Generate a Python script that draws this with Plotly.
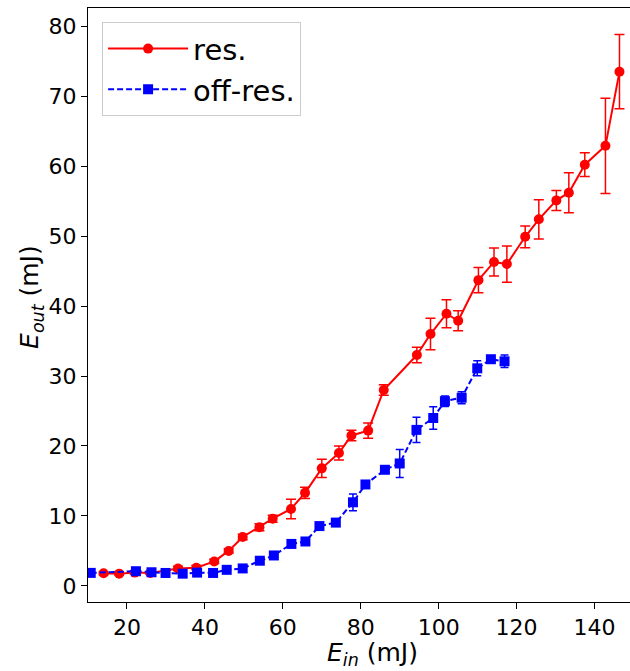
import plotly.graph_objects as go

# Resonant pumping: input energy, output energy and uncertainty (mJ)
res_ein = [14, 18, 22, 26, 33.1, 37.8, 42.4, 46.1, 49.7, 54, 57.4, 62.1, 65.7, 70,
           74.4, 77.6, 81.9, 85.9, 94.4, 97.9, 102, 105, 110.2, 114.2, 117.5, 122.2,
           125.7, 130.2, 133.4, 137.5, 142.8, 146.4]
res_eout = [1.8, 1.75, 1.9, 1.85, 2.5, 2.6, 3.5, 5.0, 7.0, 8.4, 9.6, 11.0, 13.3, 16.8,
            19.0, 21.5, 22.2, 28.0, 33.0, 36.0, 38.9, 37.9, 43.7, 46.3, 46.0, 49.9,
            52.4, 55.1, 56.2, 60.2, 62.9, 73.5]
res_err = [0.2, 0.2, 0.2, 0.2, 0.3, 0.3, 0.3, 0.3, 0.4, 0.5, 0.5, 1.4, 0.8, 1.3,
           1.0, 0.75, 1.1, 0.75, 1.1, 2.25, 2.0, 1.43, 1.8, 2.0, 2.6, 1.55,
           2.8, 1.43, 2.86, 1.7, 6.8, 5.3]

# Off-resonant pumping
off_ein = [10.7, 22.3, 26.3, 29.9, 34.3, 38.0, 42.1, 45.6, 49.7, 54.1, 57.7, 62.2,
           65.8, 69.4, 73.6, 78.0, 81.2, 86.2, 90.0, 94.3, 98.6, 101.6, 105.9, 109.9,
           113.4, 116.9]
off_eout = [1.86, 2.1, 1.95, 1.85, 1.75, 1.9, 1.85, 2.3, 2.5, 3.6, 4.35, 6.0,
            6.35, 8.55, 9.05, 11.95, 14.5, 16.6, 17.5, 22.3, 24.0, 26.4, 26.9, 31.1,
            32.4, 32.1]
off_err = [0.3, 0.5, 0.3, 0.2, 0.2, 0.3, 0.2, 0.2, 0.2, 0.3, 0.3, 0.3,
           0.4, 0.4, 0.5, 1.2, 0.5, 0.4, 2.0, 1.8, 1.6, 0.75, 0.85, 1.07,
           0.4, 0.9]

x_ticks = [20, 40, 60, 80, 100, 120, 140]
y_ticks = [0, 10, 20, 30, 40, 50, 60, 70, 80]

FONT = "DejaVu Sans"
RED = "#ff0000"
BLUE = "#0000ff"

fig = go.Figure()
fig.add_trace(go.Scatter(
    x=res_ein, y=res_eout, name="res.", legendgroup="a",
    mode="lines+markers",
    line=dict(color=RED, width=2),
    marker=dict(symbol="circle", size=10, color=RED),
    error_y=dict(type="data", array=res_err, visible=True, color=RED,
                 thickness=1.5, width=5),
))
fig.add_trace(go.Scatter(
    x=off_ein, y=off_eout, name="off-res.", legendgroup="b",
    mode="lines+markers",
    line=dict(color=BLUE, width=2, dash="6px,3px"),
    marker=dict(symbol="square", size=10, color=BLUE),
    error_y=dict(type="data", array=off_err, visible=True, color=BLUE,
                 thickness=1.5, width=4),
))

axis_common = dict(
    showgrid=False, zeroline=False, showline=True, linecolor="black", linewidth=1,
    ticks="outside", ticklen=6, tickwidth=1, tickcolor="black",
    tickfont=dict(family=FONT, size=22, color="black"),
)
title_font = dict(family=FONT, size=25, color="black")

fig.update_layout(
    width=630, height=671,
    margin=dict(l=88, r=0, t=8, b=69),
    paper_bgcolor="white", plot_bgcolor="white",
    font=dict(family=FONT, size=22, color="black"),
    xaxis=dict(
        **axis_common, mirror=True, range=[10, 149.1],
        tickvals=x_ticks, ticktext=[str(v) for v in x_ticks],
        automargin=False,
    ),
    yaxis=dict(
        **axis_common, mirror=False, range=[-2.3, 82.6],
        tickvals=y_ticks, ticktext=[str(v) for v in y_ticks],
        automargin=False,
    ),
    legend=dict(
        x=0.026, y=0.976, xanchor="left", yanchor="top",
        bgcolor="white", bordercolor="#cccccc", borderwidth=1,
        font=dict(family=FONT, size=29, color="black"),
        traceorder="grouped", tracegroupgap=0,
        itemwidth=80,
    ),
    showlegend=True,
)

# Axis titles placed as annotations for exact positioning
fig.add_annotation(
    text="<i>E</i><sub><i>in</i></sub> (mJ)", xref="paper", yref="paper",
    x=0.524, y=-0.088, xanchor="center", yanchor="middle", borderpad=0,
    showarrow=False, font=title_font,
)
fig.add_annotation(
    text="<i>E</i><sub><i>out</i></sub> (mJ)", xref="paper", yref="paper",
    x=-0.104, y=0.513, xanchor="center", yanchor="middle", textangle=-90,
    borderpad=0, showarrow=False, font=title_font,
)

fig.write_html("out.html")
